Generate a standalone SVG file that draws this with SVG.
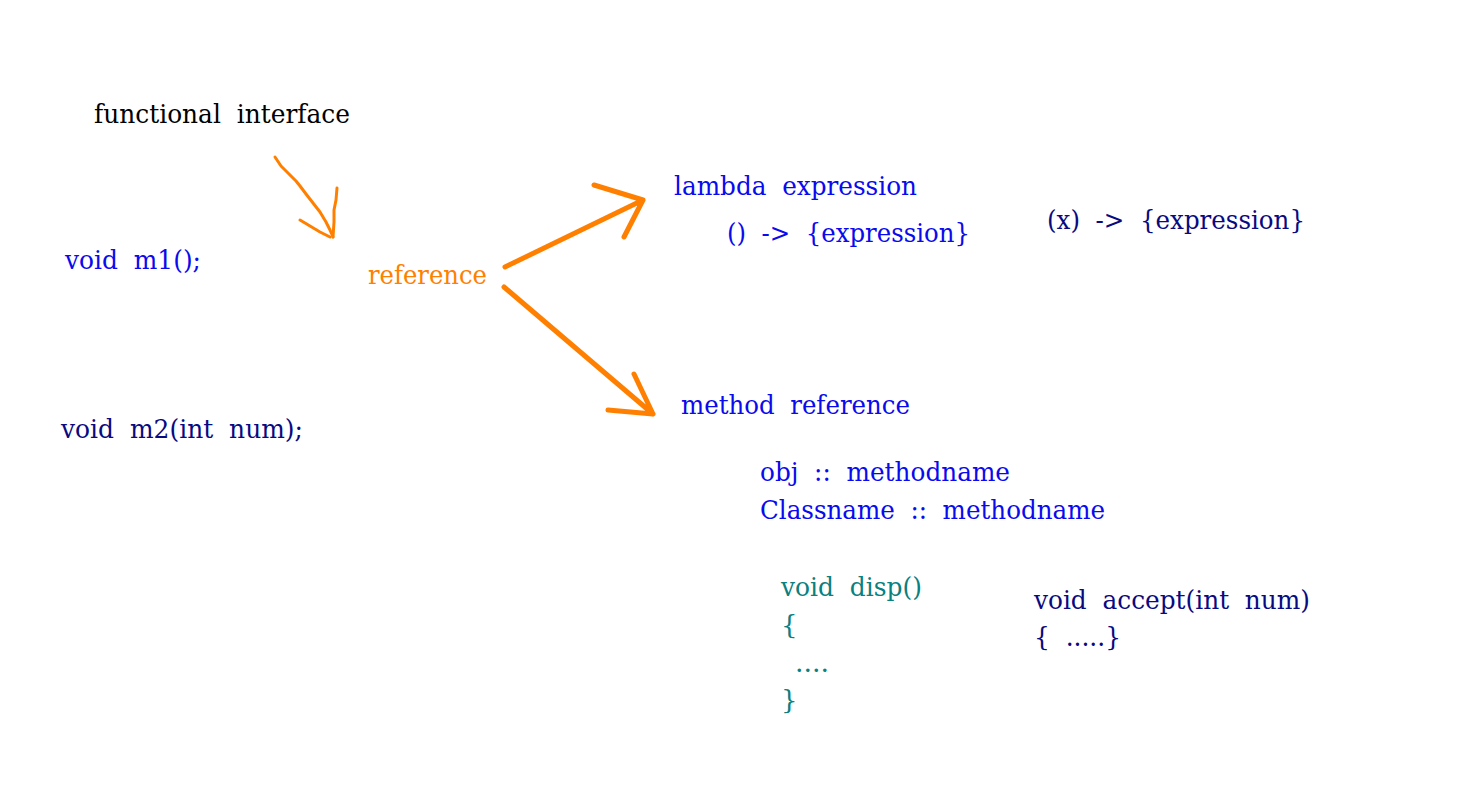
<svg xmlns="http://www.w3.org/2000/svg" width="1481" height="795" viewBox="0 0 1481 795">
<style>
text{font-family:"DejaVu Serif","Liberation Serif",serif;font-size:26px;white-space:pre}
.k{fill:#000000}.b{fill:#0a0aee}.n{fill:#0a0a80}.t{fill:#0a8080}.o{fill:#ff8000}
.s{fill:none;stroke:#ff8000;stroke-linecap:round;stroke-linejoin:round}
</style>
<rect width="1481" height="795" fill="#ffffff"/>
<g id="connectors">
<path class="s" stroke-width="3" d="M275,157 L281,166 L289,174 L296,181 L300,186 L306,194 L313,203 L320,212 L326,222 L330,230 L333,237"/>
<path class="s" stroke-width="3" d="M337,188 L336,200 L334,210 L334,222 L333,237"/>
<path class="s" stroke-width="3" d="M300,220 L310,226 L320,232 L330,237"/>
<path class="s" stroke-width="5" d="M505,267 L643,200 M594,185 L643,200 L624,237"/>
<path class="s" stroke-width="5" d="M504,287 L653,414 M634,374 L653,414 L608,410"/>
</g>
<g id="functional-interface"><text class="k" x="94" y="123" textLength="256" lengthAdjust="spacingAndGlyphs">functional  interface</text></g>
<g id="m1"><text class="b" x="65" y="269" textLength="136" lengthAdjust="spacingAndGlyphs">void  m1();</text></g>
<g id="reference"><text class="o" x="368" y="284" textLength="119" lengthAdjust="spacingAndGlyphs">reference</text></g>
<g id="lambda"><text class="b" x="674" y="195" textLength="243" lengthAdjust="spacingAndGlyphs">lambda  expression</text>
<text class="b" x="727" y="242" textLength="243" lengthAdjust="spacingAndGlyphs">()  -&gt;  {expression}</text></g>
<g id="lambda-x"><text class="n" x="1047" y="229" textLength="258" lengthAdjust="spacingAndGlyphs">(x)  -&gt;  {expression}</text></g>
<g id="m2"><text class="n" x="61" y="438" textLength="242" lengthAdjust="spacingAndGlyphs">void  m2(int  num);</text></g>
<g id="method-reference"><text class="b" x="681" y="414" textLength="229" lengthAdjust="spacingAndGlyphs">method  reference</text>
<text class="b" x="760" y="481" textLength="250" lengthAdjust="spacingAndGlyphs">obj  ::  methodname</text>
<text class="b" x="760" y="519" textLength="345" lengthAdjust="spacingAndGlyphs">Classname  ::  methodname</text></g>
<g id="disp"><text class="t" x="781" y="596" textLength="141" lengthAdjust="spacingAndGlyphs">void  disp()</text>
<text class="t" x="781" y="634">{</text>
<text class="t" x="795" y="672" textLength="34" lengthAdjust="spacingAndGlyphs">....</text>
<text class="t" x="781" y="709">}</text></g>
<g id="accept"><text class="n" x="1034" y="609" textLength="276" lengthAdjust="spacingAndGlyphs">void  accept(int  num)</text>
<text class="n" x="1034" y="646" textLength="87" lengthAdjust="spacingAndGlyphs">{  .....}</text></g>
</svg>
